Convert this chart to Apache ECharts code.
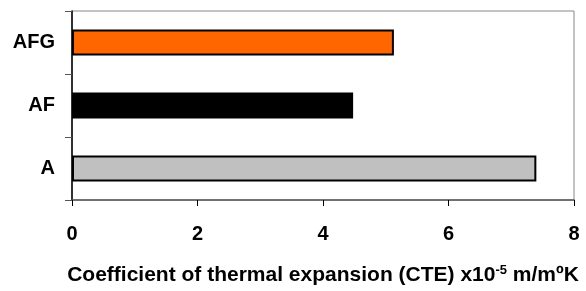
<!DOCTYPE html>
<html>
<head>
<meta charset="utf-8">
<script src="https://cdn.jsdelivr.net/npm/echarts@6/dist/echarts.min.js"></script>
<style>
html, body { margin: 0; padding: 0; background: #fff; }
#main { width: 586px; height: 291px; }
</style>
</head>
<body>
<div id="main"></div>
<script>
var categories = ['A', 'AF', 'AFG'];
var cteValues = [7.4, 4.48, 5.13];
var barColors = ['#C0C0C0', '#000000', '#FF6600'];
var xTicks = [0, 2, 4, 6, 8];

var option = {
	animation: false,
	textStyle: {
		fontFamily: 'Liberation Sans, Arial, sans-serif'
	},
	grid: {
		left: 72,
		right: 12,
		top: 11,
		bottom: 88,
		show: true,
		borderColor: '#888',
		borderWidth: 1
	},
	xAxis: {
		type: 'value',
		min: xTicks[0],
		max: xTicks[xTicks.length - 1],
		interval: 2,
		splitLine: { show: false },
		axisLine: { show: true, lineStyle: { color: '#555', width: 1.5 } },
		axisTick: { show: true, length: 6, lineStyle: { color: '#000' } },
		axisLabel: {
			margin: 24,
			color: '#000',
			fontSize: 20,
			fontWeight: 'bold'
		},
		name: '{n|Coefficient of thermal expansion (CTE) x10}{s|-5}{n| m/mºK}',
		nameLocation: 'middle',
		nameGap: 64,
		nameTextStyle: {
			padding: [0, 0, 0, 0],
			rich: {
				n: { fontSize: 21, fontWeight: 'bold', color: '#000', verticalAlign: 'bottom', lineHeight: 22 },
				s: { fontSize: 13, fontWeight: 'bold', color: '#000', verticalAlign: 'top', lineHeight: 22, padding: [0, 0, 8, 0] }
			}
		}
	},
	yAxis: {
		type: 'category',
		data: categories,
		axisLine: { show: true, lineStyle: { color: '#000', width: 1.5 } },
		axisTick: { show: true, length: 7, lineStyle: { color: '#555' } },
		axisLabel: {
			margin: 17,
			color: '#000',
			fontSize: 20,
			fontWeight: 'bold'
		}
	},
	series: [{
		type: 'bar',
		barWidth: 26,
		data: cteValues.map(function (v, i) {
			return {
				value: v,
				itemStyle: {
					color: barColors[i],
					borderColor: '#000',
					borderWidth: 2
				}
			};
		})
	}]
};

var my = echarts.init(document.getElementById('main'));
my.setOption(option);
</script>
</body>
</html>
